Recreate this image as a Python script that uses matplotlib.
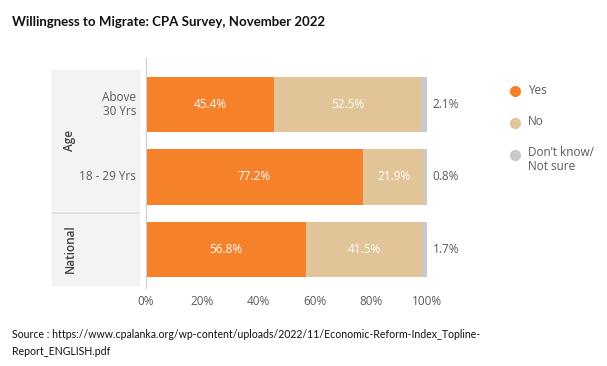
import matplotlib
matplotlib.use("Agg")
import matplotlib.pyplot as plt
from matplotlib.patches import Rectangle
from matplotlib.lines import Line2D

categories = ["National", "18 - 29 Yrs", "Above\n30 Yrs"]
yes = [56.8, 77.2, 45.4]
no = [41.5, 21.9, 52.5]
dk = [1.7, 0.8, 2.1]
series_names = ["Yes", "No", "Don\u2019t know/\nNot sure"]
colors = ["#F5822A", "#E2C499", "#C9C9C9"]
xticks = [0, 20, 40, 60, 80, 100]
xticklabels = ["0%", "20%", "40%", "60%", "80%", "100%"]

W, H = 607, 366
fig = plt.figure(figsize=(W / 100, H / 100), dpi=100)

def fx(px):
    return px / W

def fy(py):
    return 1 - py / H

FS = 8.5
FONT = ["Open Sans", "DejaVu Sans"]
ax = fig.add_axes([fx(146), fy(288), fx(427) - fx(146), fy(58) - fy(288)])
ys = list(range(len(categories)))
ax.barh(ys, yes, height=0.76, color=colors[0], linewidth=0)
ax.barh(ys, no, left=yes, height=0.76, color=colors[1], linewidth=0)
left3 = [a + b for a, b in zip(yes, no)]
ax.barh(ys, dk, left=left3, height=0.76, color=colors[2], linewidth=0)

tc = "#5A5A5A"
for i in ys:
    ax.text(yes[i] / 2, i, f"{yes[i]:.1f}%", ha="center", va="center",
            color="white", fontsize=FS, family=FONT)
    ax.text(yes[i] + no[i] / 2, i, f"{no[i]:.1f}%", ha="center", va="center",
            color="white", fontsize=FS, family=FONT)
    ax.text(102, i, f"{dk[i]:.1f}%", ha="left", va="center",
            color=tc, fontsize=FS, family=FONT)

ax.set_xlim(0, 100)
ax.set_ylim(-0.53, 2.64)
ax.set_xticks(xticks)
ax.set_xticklabels(xticklabels, family=FONT, fontsize=FS, color=tc)
ax.tick_params(axis="x", length=0, pad=5)
ax.set_yticks([])
for s in ["top", "right", "bottom"]:
    ax.spines[s].set_visible(False)
ax.spines["left"].set_color("#CFCFCF")
ax.spines["left"].set_linewidth(0.8)
ax.patch.set_alpha(0)

# Left category panels
fig.patches.append(Rectangle((fx(52), fy(210)), fx(139) - fx(52), fy(70) - fy(210),
                             transform=fig.transFigure, color="#F3F3F3", zorder=0))
fig.patches.append(Rectangle((fx(52), fy(285)), fx(139) - fx(52), fy(214) - fy(285),
                             transform=fig.transFigure, color="#F3F3F3", zorder=0))
fig.lines.append(Line2D([fx(52), fx(139)], [fy(212.5), fy(212.5)],
                        transform=fig.transFigure, color="#DCDCDC", lw=1.2))

fig.canvas.draw()
for i, lab in enumerate(categories):
    if i == 0:
        continue
    yd = ax.transData.transform((0, i))[1]
    fig.text(fx(136), yd / (H), lab, ha="right", va="center",
             fontsize=FS, color=tc, family=FONT, linespacing=1.1)

fig.text(fx(70), fy(140), "Age", rotation=90, ha="center", va="center",
         fontsize=FS, color="#404040", family=FONT, fontweight="semibold")
fig.text(fx(70), fy(249), "National", rotation=90, ha="center", va="center",
         fontsize=FS, color="#404040", family=FONT, fontweight="semibold")

# Legend
leg_y = [91, 123, 155]
for name, c, py in zip(series_names, colors, leg_y):
    fig.lines.append(Line2D([fx(515)], [fy(py)], marker="o", markersize=7,
                            color=c, transform=fig.transFigure, linestyle="none"))
    if "\n" in name:
        fig.text(fx(528), fy(146), name, ha="left", va="top",
                 fontsize=FS, color=tc, family=FONT, linespacing=1.15)
    else:
        fig.text(fx(528), fy(py - 1), name, ha="left", va="center",
                 fontsize=FS, color=tc, family=FONT)

fig.text(fx(12), fy(22), "Willingness to Migrate: CPA Survey, November 2022",
         ha="left", va="center", fontsize=9.5, fontweight="bold", family="Lato", color="#111111")
fig.text(fx(12), fy(343), "Source : https://www.cpalanka.org/wp-content/uploads/2022/11/Economic-Reform-Index_Topline-\nReport_ENGLISH.pdf",
         ha="left", va="center", fontsize=7.6, family="Lato", color="#111111", linespacing=1.6)

fig.savefig("out.png", dpi=100)
